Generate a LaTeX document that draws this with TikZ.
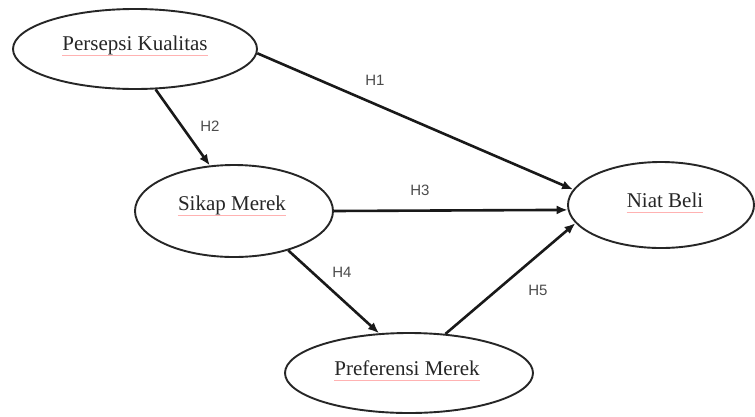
\documentclass[tikz,border=0pt]{standalone}
\usepackage{fontspec}
\setmainfont{Liberation Serif}
\newfontfamily\hypfont{Liberation Sans}
\usetikzlibrary{shapes.geometric,arrows.meta}

\begin{document}
\begin{tikzpicture}[x=1pt,y=-1pt,
  construct/.style={ellipse, draw=black!85, line width=1.9pt, inner sep=0pt},
  cname/.style={font=\fontsize{21}{24}\selectfont, text=black!85, inner sep=0pt},
  effect/.style={line width=2.6pt, draw=black!90, -{Latex[length=11pt,width=9pt]}},
  hyp/.style={font=\hypfont\fontsize{15}{17}\selectfont, text=black!70, inner sep=0pt},
  spell/.style={draw=red!30, line width=0.6pt}
]
\useasboundingbox[fill=white] (0,0) rectangle (755,416);

% constructs
\node[construct, minimum width=244pt, minimum height=80pt] (pk) at (135,49) {};
\node[construct, minimum width=198pt, minimum height=92pt] (sm) at (234,211) {};
\node[construct, minimum width=186pt, minimum height=86pt] (nb) at (661,205) {};
\node[construct, minimum width=248pt, minimum height=80pt] (pm) at (409,373) {};

% construct names
\node[cname] (pkt) at (135,45) {Persepsi Kualitas};
\node[cname] (smt) at (232,205) {Sikap Merek};
\node[cname] (nbt) at (665,200) {Niat Beli};
\node[cname] (pmt) at (407,368) {Preferensi Merek};

% spell-check underlines
\foreach \t in {pkt,smt,nbt,pmt}
  \draw[spell] ([yshift=-5pt]\t.base west) -- ([yshift=-5pt]\t.base east);

% hypothesised paths
\draw[effect] (pk.-2)   -- (nb.170);
\draw[effect] (pk.-63)  -- (sm.118);
\draw[effect] (sm.east) -- (nb.183);
\draw[effect] (sm.-36)  -- (pm.127);
\draw[effect] (pm.47)   -- (nb.192);

% path labels
\node[hyp] (h1) at (375,80)  {H1};
\node[hyp] (h2) at (210,126) {H2};
\node[hyp] (h3) at (420,190) {H3};
\node[hyp] (h4) at (342,272) {H4};
\node[hyp] (h5) at (538,290) {H5};
\end{tikzpicture}
\end{document}
